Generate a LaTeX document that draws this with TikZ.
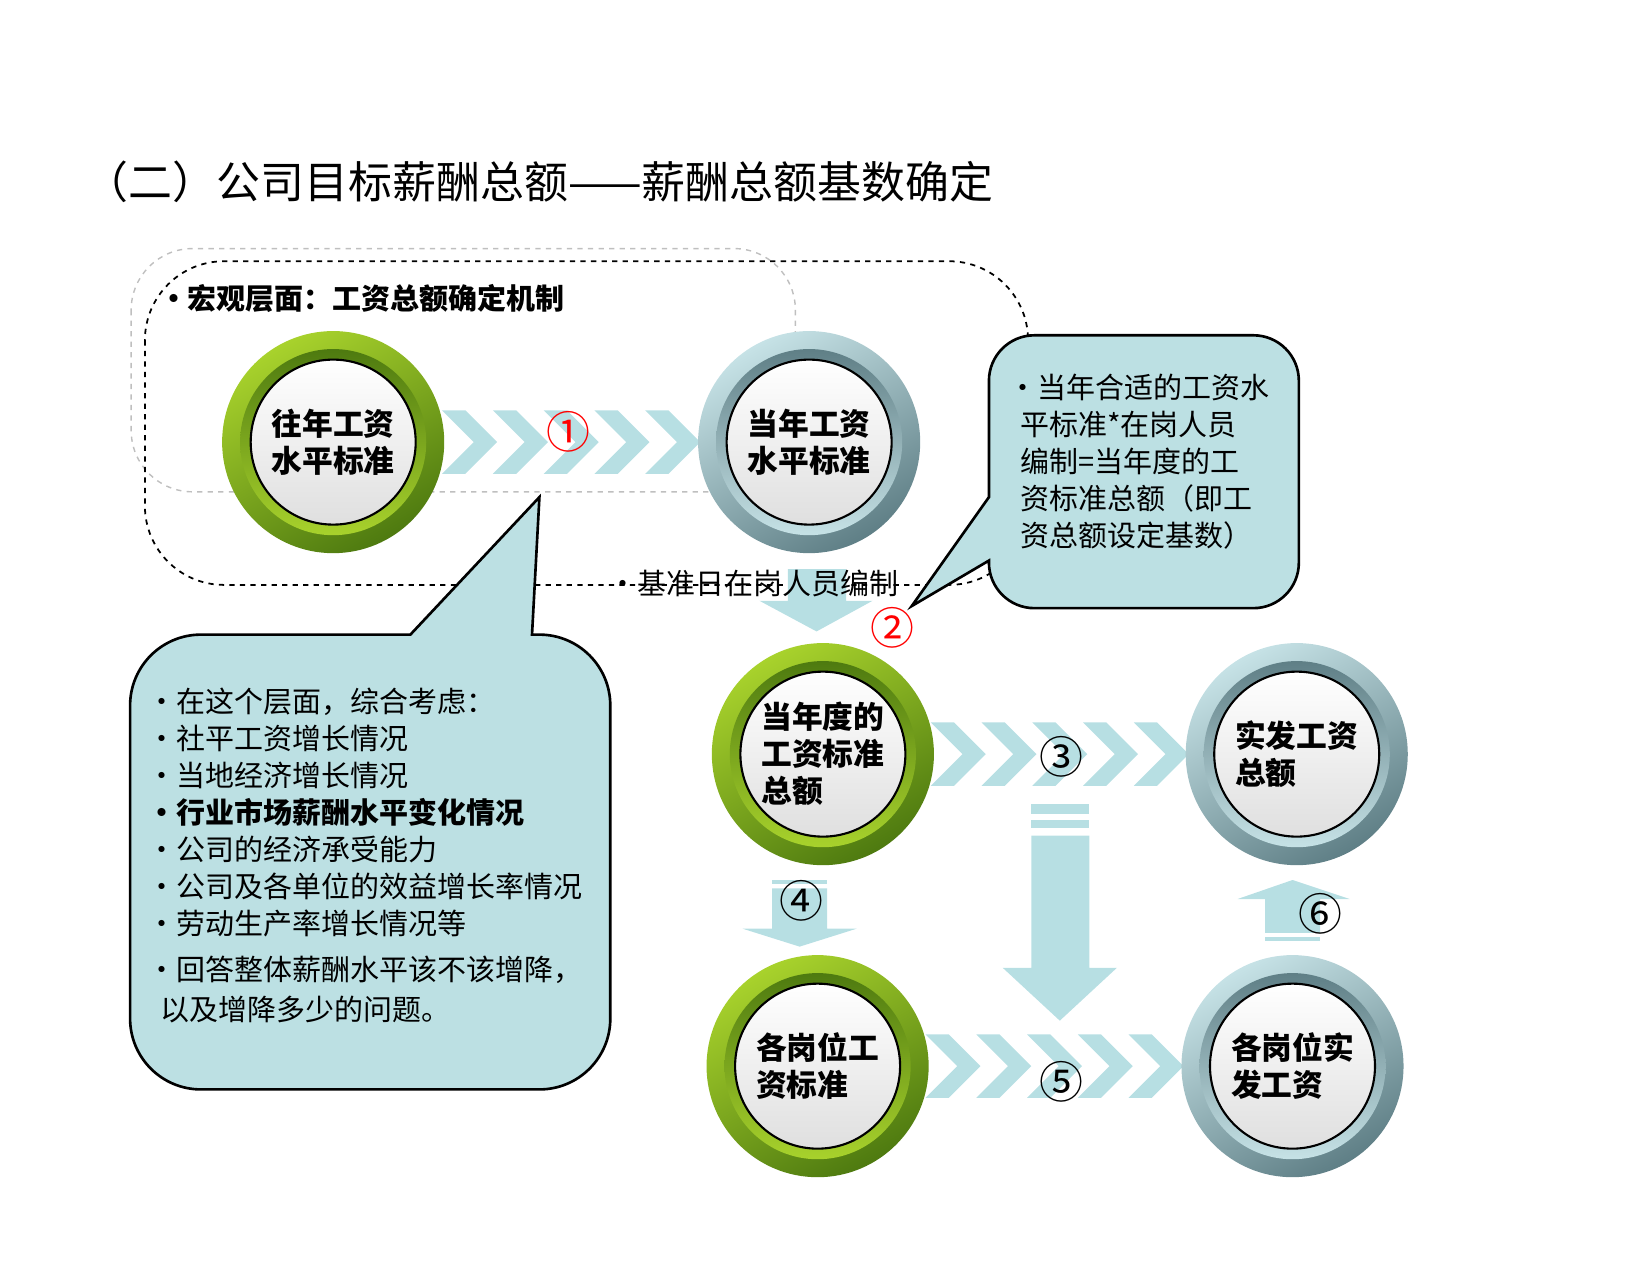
\documentclass[tikz,border=0pt]{standalone}
\usepackage{fontspec}
\setmainfont{Noto Sans CJK SC}
\newfontfamily\cjk{Noto Sans CJK SC}
\definecolor{lt}{HTML}{B7DFE3}
\definecolor{cb}{HTML}{BCE0E3}
\definecolor{gd}{HTML}{4E7A10}
\definecolor{gl}{HTML}{A8D22C}
\definecolor{td}{HTML}{5F7F86}
\definecolor{tl}{HTML}{C6E2E6}
\tikzset{
 ctext/.style={font=\fontsize{17.5}{21}\selectfont\bfseries, align=left},
 btext/.style={font=\fontsize{16.5}{21}\selectfont, align=left, anchor=north west},
 chev/.style={fill=lt, draw=none},
 numlab/.style={font=\fontsize{25}{25}\selectfont},
}
\newcommand{\ring}[4]{% center, name, type(g/t), text
 \begin{scope}[shift={#1}]
 \ifx g#3
  \shade[top color=gl, bottom color=gd, shading angle=30] (0,0) circle (105);
  \shade[top color=gd, bottom color=gl] (0,0) circle (88);
 \else
  \shade[top color=tl, bottom color=td, shading angle=30] (0,0) circle (105);
  \shade[top color=td, bottom color=tl] (0,0) circle (88);
 \fi
  \shade[top color=white, bottom color=gray!25, draw=black, line width=1.2pt] (0,0) circle (78);
  \node[ctext] (#2) at (0,0) {#4};
 \end{scope}}
\newcommand{\chevrow}[4]{% x0, y, n, step
 \foreach \i in {1,...,#3}{
  \pgfmathsetmacro\xx{#1+(\i-1)*#4}
  \fill[chev] (\xx,#2-30) -- ++(22,0) -- ++(30,30) -- ++(-30,30) -- ++(-22,0) -- ++(30,-30) -- cycle;
 }}
\begin{document}
\begin{tikzpicture}[x=0.2116mm,y=-0.2116mm]
\useasboundingbox (0,0) rectangle (1560,1205);
\node[anchor=west, font=\fontsize{25}{28}\selectfont, inner sep=0] (title) at (80,172) {（二）公司目标薪酬总额——薪酬总额基数确定};
% dashed regions
\draw[gray!50, dashed, line width=0.8pt, rounded corners=35] (124,235) rectangle (752,465);
\draw[black, dashed, line width=1pt, rounded corners=45] (137,247) rectangle (972,553);
\node[anchor=west, font=\fontsize{16.5}{20}\selectfont\bfseries, inner sep=0] (macro) at (150,282) {•宏观层面：工资总额确定机制};
% chevrons
\chevrow{418}{418}{5}{48}
\chevrow{880}{713}{5}{48}
\chevrow{875}{1008}{5}{48}
% down arrow under C2
\fill[lt] (745,538) -- (800,538) -- (800,568) -- (825,568) -- (772,597) -- (718,568) -- (745,568) -- cycle;
% arrow 4
\fill[lt] (730,832) rectangle (782,836);
\fill[lt] (730,840) -- (782,840) -- (782,878) -- (810,878) -- (756,895) -- (702,878) -- (730,878) -- cycle;
% arrow 5
\fill[lt] (975,760) rectangle (1030,770);
\fill[lt] (975,775) rectangle (1030,783);
\fill[lt] (975,790) -- (1030,790) -- (1030,915) -- (1056,915) -- (1002,965) -- (948,915) -- (975,915) -- cycle;
% arrow 6
\fill[lt] (1196,890) rectangle (1248,886);
\fill[lt] (1196,882) -- (1248,882) -- (1248,850) -- (1276,850) -- (1222,832) -- (1170,850) -- (1196,850) -- cycle;
% circles
\ring{(315,418)}{c1}{g}{往年工资\\水平标准}
\ring{(765,418)}{c2}{t}{当年工资\\水平标准}
\ring{(778,713)}{c3}{g}{当年度的\\工资标准\\总额}
\ring{(1226,713)}{c4}{t}{实发工资\\总额}
\ring{(773,1008)}{c5}{g}{各岗位工\\资标准}
\ring{(1222,1008)}{c6}{t}{各岗位实\\发工资}
% numbers
\node[red, numlab] (n1) at (537,408) {①};
\node[red, numlab] (n2) at (844,594) {②};
\node[numlab] (n3) at (1004,716) {③};
\node[numlab] (n4) at (758,852) {④};
\node[numlab] (n5) at (1004,1023) {⑤};
\node[numlab] (n6) at (1248,864) {⑥};
% callout 2
\draw[fill=cb, line width=1.5pt] (935,530) -- (862,573) -- (935,470) -- (935,360) arc (180:270:43) -- (1185,317) arc (270:360:43) -- (1228,532) arc (0:90:43) -- (978,575) arc (90:180:43) -- cycle;
\node[btext] (t2) at (948,348) {•当年合适的工资水\\\ \,平标准*在岗人员\\\ \,编制=当年度的工\\\ \,资标准总额（即工\\\ \,资总额设定基数）};
% baseline text
\node[font=\fontsize{16.5}{20}\selectfont] (base) at (712,552) {•基准日在岗人员编制};
% callout 1
\draw[fill=cb, line width=1.5pt] (388,600) -- (510,470) -- (503,600) -- (510,600) arc (270:360:67) -- (577,963) arc (0:90:67) -- (190,1030) arc (90:180:67) -- (123,667) arc (180:270:67) -- cycle;
\node[btext] (t1) at (134,645) {•在这个层面，综合考虑：\\•社平工资增长情况\\•当地经济增长情况\\\textbf{•行业市场薪酬水平变化情况}\\•公司的经济承受能力\\•公司及各单位的效益增长率情况\\•劳动生产率增长情况等};
\node[btext, font=\fontsize{16.5}{23}\selectfont] (t1b) at (134,898) {•回答整体薪酬水平该不该增降，\\\ \ 以及增降多少的问题。};
\end{tikzpicture}
\end{document}
